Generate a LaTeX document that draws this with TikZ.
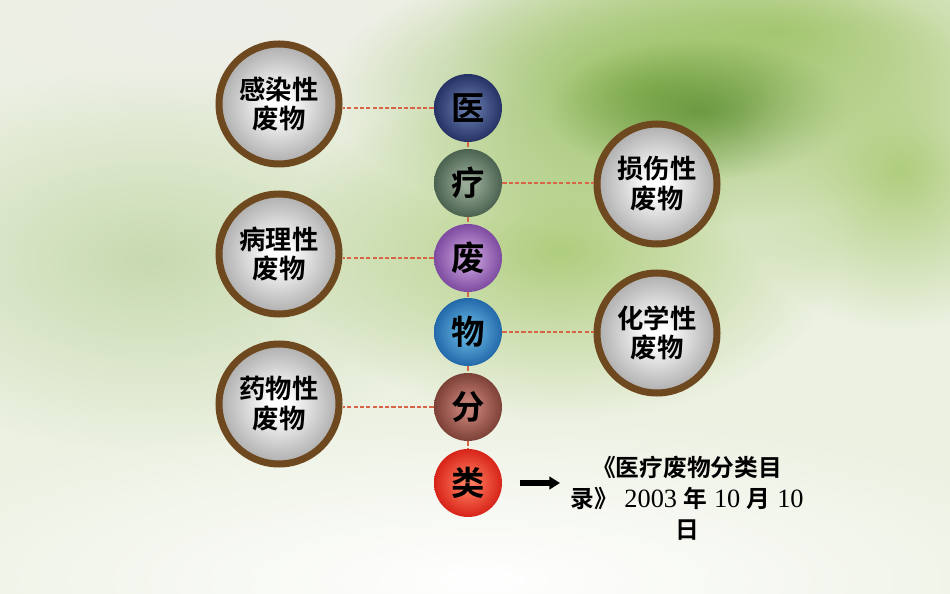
\documentclass[tikz,border=0pt]{standalone}
\usepackage{fontspec}
\setmainfont{Liberation Serif}
\newfontfamily\cjk{Noto Sans CJK SC}[BoldFont={Noto Sans CJK SC Bold}]
\usetikzlibrary{arrows.meta,fadings}

% soft radial shading, light centre and darker rim
\pgfdeclareradialshading[dotin,dotout]{soft}{\pgfpoint{0bp}{0bp}}%
  {color(0bp)=(dotin); color(4bp)=(dotin); color(25bp)=(dotout); color(50bp)=(dotout)}
\tikzfading[name=softedge, inner color=transparent!0, outer color=transparent!100]

\definecolor{bgbase}{RGB}{236,241,226}
\definecolor{ringbrown}{RGB}{110,72,30}
\definecolor{linkred}{RGB}{214,100,70}

\tikzset{
  tone/.style 2 args={/utils/exec={\colorlet{dotin}{#1}\colorlet{dotout}{#2}}},
  blob/.style={fill=#1, path fading=softedge},
  dot/.style 2 args={circle, minimum size=1.36cm, inner sep=0pt, shade, shading=soft,
    tone={#1}{#2}, font=\cjk\bfseries\fontsize{19}{19}\selectfont},
  kind/.style={circle, minimum size=2.4cm, inner sep=0pt, draw=ringbrown, line width=4pt,
    shade, shading=soft, tone={white}{black!32}, align=center,
    font=\cjk\bfseries\fontsize{15}{17}\selectfont},
  link/.style={draw=linkred, line width=0.6pt, dash pattern=on 2.4pt off 1.2pt}
}
\newcommand{\zhtext}[1]{{\cjk\bfseries\fontsize{13.5}{17.6}\selectfont #1}}

\begin{document}
\begin{tikzpicture}[x=0.02cm, y=-0.02cm]
  % background
  \useasboundingbox (0,0) rectangle (950,594);
  \begin{scope}
    \clip (0,0) rectangle (950,594);
    \fill[bgbase] (0,0) rectangle (950,594);
    \definecolor{g1}{RGB}{200,218,175}\definecolor{g2}{RGB}{150,190,95}
    \definecolor{g3}{RGB}{85,135,45}\definecolor{g4}{RGB}{175,205,125}
    \definecolor{g5}{RGB}{238,238,232}
    \path[blob=g5] (220,20) ellipse (460 and 140);
    \path[blob=g1] (150,260) ellipse (330 and 190);
    \path[blob=g4] (560,250) ellipse (280 and 170);
    \path[blob=g4] (780,30) ellipse (330 and 110);
    \path[blob=g2] (650,90) ellipse (320 and 140);
    \path[blob=g3, fill opacity=0.7] (700,110) ellipse (150 and 70);
    \path[blob=g4] (900,170) ellipse (170 and 160);
    \path[blob=white] (480,580) ellipse (640 and 170);
  \end{scope}

  % the six characters
  \definecolor{c1i}{RGB}{100,120,170}\definecolor{c1o}{RGB}{38,50,100}
  \definecolor{c2i}{RGB}{150,170,150}\definecolor{c2o}{RGB}{75,98,80}
  \definecolor{c3i}{RGB}{200,160,220}\definecolor{c3o}{RGB}{125,75,160}
  \definecolor{c4i}{RGB}{100,180,225}\definecolor{c4o}{RGB}{35,105,170}
  \definecolor{c5i}{RGB}{200,130,120}\definecolor{c5o}{RGB}{125,65,55}
  \definecolor{c6i}{RGB}{252,120,90}\definecolor{c6o}{RGB}{215,35,25}
  \node[dot={c1i}{c1o}] (med) at (468,108) {医};
  \node[dot={c2i}{c2o}] (liao) at (468,183) {疗};
  \node[dot={c3i}{c3o}] (fei) at (468,258) {废};
  \node[dot={c4i}{c4o}] (wu) at (468,332) {物};
  \node[dot={c5i}{c5o}] (fen) at (468,407) {分};
  \node[dot={c6i}{c6o}] (lei) at (468,483) {类};

  % kinds of waste
  \node[kind] (infect) at (279,104) {感染性\\废物};
  \node[kind] (patho) at (279,254) {病理性\\废物};
  \node[kind] (drug) at (279,404) {药物性\\废物};
  \node[kind] (injury) at (657,184) {损伤性\\废物};
  \node[kind] (chem) at (657,333) {化学性\\废物};

  % links
  \draw[link] (med) -- (liao);
  \draw[link] (liao) -- (fei);
  \draw[link] (fei) -- (wu);
  \draw[link] (wu) -- (fen);
  \draw[link] (fen) -- (lei);
  \draw[link] (med.west) -- (med.west -| infect.east);
  \draw[link] (fei.west) -- (fei.west -| patho.east);
  \draw[link] (fen.west) -- (fen.west -| drug.east);
  \draw[link] (liao.east) -- (liao.east -| injury.west);
  \draw[link] (wu.east) -- (wu.east -| chem.west);

  % catalogue
  \node[align=center, inner sep=0pt, font=\fontsize{15}{17.6}\selectfont] (book) at (687,498)
    {\zhtext{《医疗废物分类目}\\
     \zhtext{录》} 2003 \zhtext{年} 10 \zhtext{月} 10\\
     \zhtext{日}};
  \draw[-{Triangle[length=6pt, width=7pt]}, line width=3pt, shorten <=0.36cm, shorten >=0.2cm]
    (lei.east) -- (book.west |- lei.east);
\end{tikzpicture}
\end{document}
